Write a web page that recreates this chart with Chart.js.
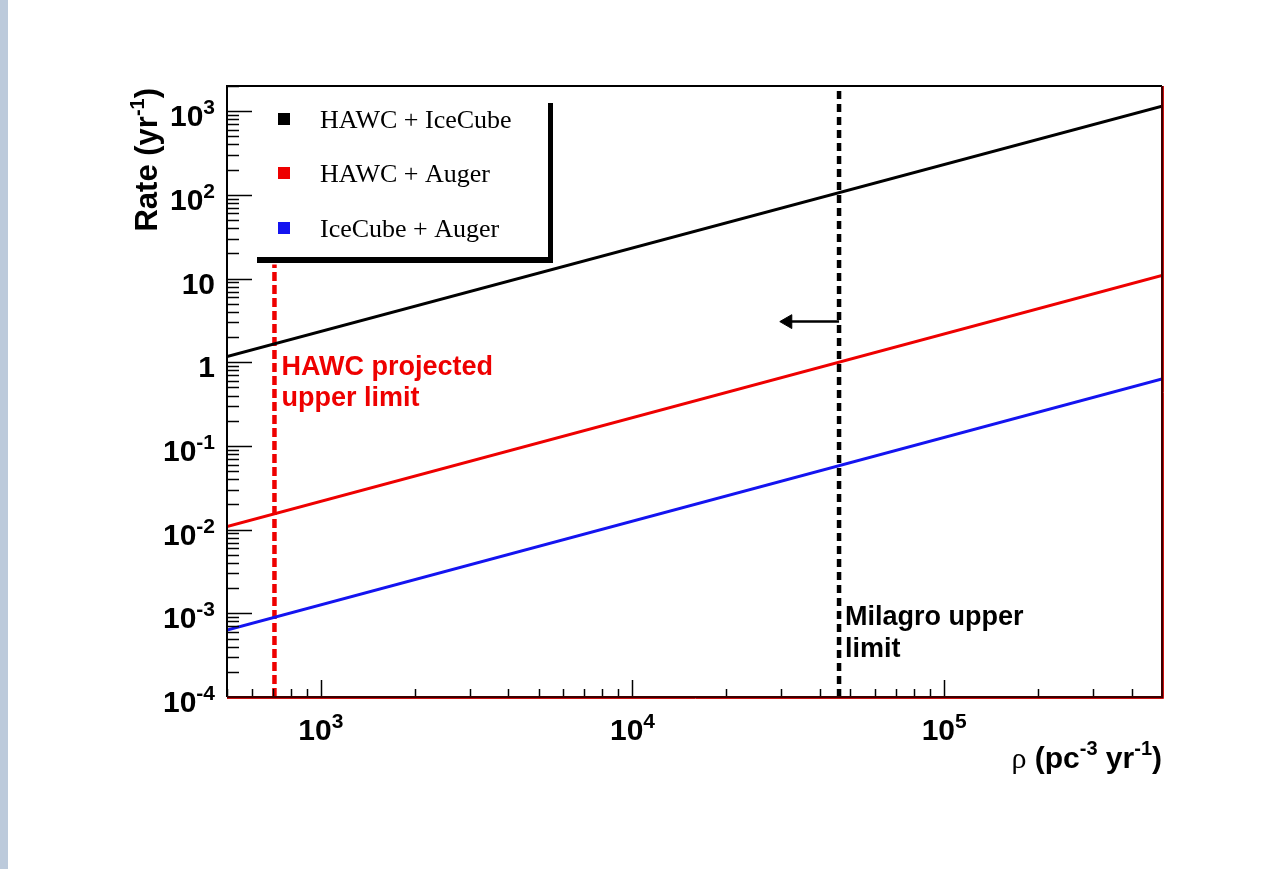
<!DOCTYPE html>
<html>
<head>
<meta charset="utf-8">
<title>Rate vs rho</title>
<script src="https://cdn.jsdelivr.net/npm/chart.js@4.4.1/dist/chart.umd.min.js"></script>
<style>
    html, body { margin: 0; padding: 0; background: #fff; overflow: hidden; }
    #strip { position: absolute; left: 0; top: 0; width: 8px; height: 869px; background: #bccadb; }
    #wrap { position: absolute; left: 0; top: 0; width: 1287px; height: 869px; }
</style>
</head>
<body>
<div id="strip"></div>
<div id="wrap"><canvas id="rateChart" width="1287" height="869"></canvas></div>
<script>
// --- data ---
const rho = [500, 500000];
const rateHawcIceCube = [1.17, 1150];
const rateHawcAuger = [0.0109, 10.9];
const rateIceCubeAuger = [0.00063, 0.63];
const seriesNames = ['HAWC + IceCube', 'HAWC + Auger', 'IceCube + Auger'];

const hawcLimitRho = [710, 710];
const hawcLimitRate = [0.0001, 14.7];
const milagroLimitRho = [46000, 46000];
const milagroLimitRate = [0.0001, 2000];
const arrowRho = [46000, 31500];
const arrowRate = [3.06, 3.06];

const xRange = [500, 500000];
const yRange = [0.0001, 2000];
const xTickValues = [1000, 10000, 100000];
const xTickBase = ['10', '10', '10'];
const xTickExp = ['3', '4', '5'];
const yTickValues = [1e-4, 1e-3, 1e-2, 1e-1, 1, 10, 100, 1000];
const yTickBase = ['10', '10', '10', '10', '1', '10', '10', '10'];
const yTickExp = ['-4', '-3', '-2', '-1', '', '', '2', '3'];

const BLACK = '#000000';
const RED = '#ee0000';
const BLUE = '#1414f0';
const SANS = '"Liberation Sans", Arial, Helvetica, sans-serif';
const SERIF = '"Liberation Serif", "Times New Roman", serif';

const pts = (xs, ys) => xs.map((x, i) => ({ x: x, y: ys[i] }));

// draw a run of text pieces, each {t, font, dy}; align 'left' | 'right' | 'center'
function drawRun(ctx, pieces, x, y, align) {
    let total = 0;
    pieces.forEach(p => { ctx.font = p.font; p.w = ctx.measureText(p.t).width; total += p.w; });
    let cx = x;
    if (align === 'right') cx = x - total;
    if (align === 'center') cx = x - total / 2;
    ctx.textAlign = 'left';
    ctx.textBaseline = 'alphabetic';
    pieces.forEach(p => {
        ctx.font = p.font;
        ctx.fillText(p.t, cx, y + (p.dy || 0));
        cx += p.w;
    });
}

function powerLabel(base, exp) {
    const out = [{ t: base, font: 'bold 30px ' + SANS }];
    if (exp) out.push({ t: exp, font: 'bold 21px ' + SANS, dy: -12 });
    return out;
}

function isDecadeStep(v) {
    const s = v / Math.pow(10, Math.floor(Math.log10(v) + 1e-9));
    return Math.abs(s - Math.round(s)) < 1e-6;
}
function isMajor(v) {
    const l = Math.log10(v);
    return Math.abs(l - Math.round(l)) < 1e-6;
}

const rootStyle = {
    id: 'rootStyle',
    afterDraw(chart) {
        const ctx = chart.ctx;
        const a = chart.chartArea;
        const xs = chart.scales.x;
        const ys = chart.scales.y;
        ctx.save();

        // ticks (inside the frame)
        ctx.strokeStyle = BLACK;
        ctx.lineWidth = 1.5;
        ys.ticks.forEach(t => {
            if (!isDecadeStep(t.value)) return;
            const py = Math.round(ys.getPixelForValue(t.value)) + 0.5;
            const len = isMajor(t.value) ? 25 : 12;
            ctx.beginPath(); ctx.moveTo(a.left, py); ctx.lineTo(a.left + len, py); ctx.stroke();
        });
        xs.ticks.forEach(t => {
            if (!isDecadeStep(t.value)) return;
            const px = Math.round(xs.getPixelForValue(t.value)) + 0.5;
            const len = isMajor(t.value) ? 17 : 8;
            ctx.beginPath(); ctx.moveTo(px, a.bottom); ctx.lineTo(px, a.bottom - len); ctx.stroke();
        });

        // frame
        ctx.lineWidth = 2;
        ctx.strokeStyle = BLACK;
        ctx.beginPath();
        ctx.moveTo(a.left, a.bottom); ctx.lineTo(a.left, a.top); ctx.lineTo(a.right, a.top);
        ctx.stroke();
        ctx.strokeStyle = '#3a0000';
        ctx.beginPath();
        ctx.moveTo(a.right, a.top); ctx.lineTo(a.right, a.bottom); ctx.lineTo(a.left, a.bottom);
        ctx.stroke();
        ctx.strokeStyle = '#cc1010';
        ctx.lineWidth = 1;
        ctx.beginPath();
        ctx.moveTo(a.right + 1.5, a.top); ctx.lineTo(a.right + 1.5, a.bottom + 1.5); ctx.lineTo(a.left, a.bottom + 1.5);
        ctx.stroke();

        // tick labels
        ctx.fillStyle = BLACK;
        yTickValues.forEach((v, i) => {
            const py = ys.getPixelForValue(v);
            drawRun(ctx, powerLabel(yTickBase[i], yTickExp[i]), a.left - 12, py + 15, 'right');
        });
        xTickValues.forEach((v, i) => {
            const px = xs.getPixelForValue(v);
            drawRun(ctx, powerLabel(xTickBase[i], xTickExp[i]), px, a.bottom + 43, 'center');
        });

        // axis titles
        ctx.save();
        ctx.translate(157, a.top + 2);
        ctx.rotate(-Math.PI / 2);
        drawRun(ctx, [
            { t: 'Rate (yr', font: 'bold 31px ' + SANS },
            { t: '-1', font: 'bold 20px ' + SANS, dy: -13 },
            { t: ')', font: 'bold 31px ' + SANS }
        ], 0, 0, 'right');
        ctx.restore();
        drawRun(ctx, [
            { t: '\u03c1', font: '30px ' + SERIF },
            { t: ' (pc', font: 'bold 30px ' + SANS },
            { t: '-3', font: 'bold 20px ' + SANS, dy: -13 },
            { t: ' yr', font: 'bold 30px ' + SANS },
            { t: '-1', font: 'bold 20px ' + SANS, dy: -13 },
            { t: ')', font: 'bold 30px ' + SANS }
        ], a.right, 768, 'right');

        // annotations next to the limits
        const hx = xs.getPixelForValue(hawcLimitRho[0]) + 7;
        ctx.fillStyle = RED;
        drawRun(ctx, [{ t: 'HAWC projected', font: 'bold 27px ' + SANS }], hx, 375, 'left');
        drawRun(ctx, [{ t: 'upper limit', font: 'bold 27px ' + SANS }], hx, 406, 'left');
        const mx = xs.getPixelForValue(milagroLimitRho[0]) + 6;
        ctx.fillStyle = BLACK;
        drawRun(ctx, [{ t: 'Milagro upper', font: 'bold 27px ' + SANS }], mx, 625, 'left');
        drawRun(ctx, [{ t: 'limit', font: 'bold 27px ' + SANS }], mx, 657, 'left');

        // legend box (ROOT style: shadow on right and bottom)
        ctx.fillStyle = BLACK;
        ctx.fillRect(548, 103, 5, 160);
        ctx.fillRect(257, 257, 296, 6);
        const rowY = [119, 173, 228];
        const colors = [BLACK, RED, BLUE];
        rowY.forEach((yy, i) => {
            ctx.fillStyle = colors[i];
            ctx.fillRect(278, yy - 6, 12, 12);
            ctx.fillStyle = BLACK;
            drawRun(ctx, [{ t: chart.data.datasets[i].label, font: '26px ' + SERIF }], 320, yy + 9, 'left');
        });

        ctx.restore();
    }
};

const ctx = document.getElementById('rateChart');
new Chart(ctx, {
    type: 'scatter',
    data: {
        datasets: [
            { label: seriesNames[0], data: pts(rho, rateHawcIceCube), borderColor: BLACK, borderWidth: 3, showLine: true, pointRadius: 0 },
            { label: seriesNames[1], data: pts(rho, rateHawcAuger), borderColor: RED, borderWidth: 3, showLine: true, pointRadius: 0 },
            { label: seriesNames[2], data: pts(rho, rateIceCubeAuger), borderColor: BLUE, borderWidth: 3, showLine: true, pointRadius: 0 },
            { label: 'HAWC limit', data: pts(hawcLimitRho, hawcLimitRate), borderColor: RED, borderWidth: 4.5, borderDash: [9, 4], showLine: true, pointRadius: 0 },
            { label: 'Milagro limit', data: pts(milagroLimitRho, milagroLimitRate), borderColor: BLACK, borderWidth: 4.5, borderDash: [8, 5], showLine: true, pointRadius: 0 },
            {
                label: 'arrow', data: pts(arrowRho, arrowRate), borderColor: BLACK, borderWidth: 2.5, showLine: true,
                pointRadius: [0, 8], pointStyle: 'triangle', pointRotation: 270,
                pointBackgroundColor: BLACK, pointBorderColor: BLACK, pointBorderWidth: 1
            }
        ]
    },
    options: {
        responsive: false,
        animation: false,
        events: [],
        layout: { padding: { left: 219, right: 125, top: 86, bottom: 164 } },
        plugins: { legend: { display: false }, tooltip: { enabled: false } },
        scales: {
            x: {
                type: 'logarithmic', min: xRange[0], max: xRange[1],
                grid: { display: false }, border: { display: false },
                ticks: { display: false }
            },
            y: {
                type: 'logarithmic', min: yRange[0], max: yRange[1],
                grid: { display: false }, border: { display: false },
                ticks: { display: false }
            }
        }
    },
    plugins: [rootStyle]
});
</script>
</body>
</html>
